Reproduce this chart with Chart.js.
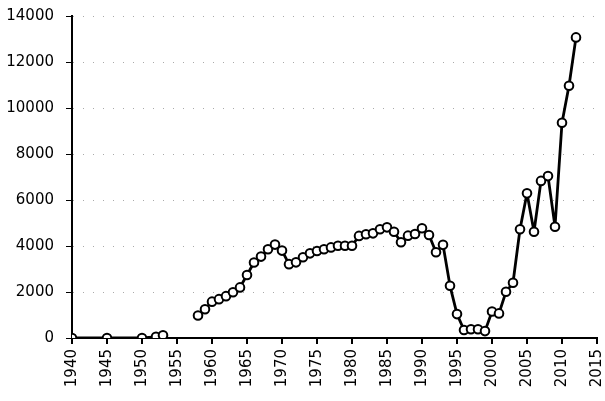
<!DOCTYPE html>
<html>
<head>
<meta charset="utf-8">
<script src="https://cdn.jsdelivr.net/npm/chart.js@4/dist/chart.umd.min.js"></script>
<style>
  html, body { margin: 0; padding: 0; background: #fff; }
  canvas { display: block; }
</style>
</head>
<body>
<canvas id="chart" width="605" height="401"></canvas>
<script>
// years along the x axis (null value = break in the line)
const years = [1940, 1945, 1950, 1952, 1953, 1954, 1955, 1956, 1957,
  1958, 1959, 1960, 1961, 1962, 1963, 1964, 1965, 1966, 1967, 1968, 1969,
  1970, 1971, 1972, 1973, 1974, 1975, 1976, 1977, 1978, 1979, 1980, 1981,
  1982, 1983, 1984, 1985, 1986, 1987, 1988, 1989, 1990, 1991, 1992, 1993,
  1994, 1995, 1996, 1997, 1998, 1999, 2000, 2001, 2002, 2003, 2004, 2005,
  2006, 2007, 2008, 2009, 2010, 2011, 2012];
const values = [0, 0, 0, 50, 120, null, null, null, null,
  980, 1250, 1580, 1690, 1820, 1990, 2200, 2740, 3280, 3540, 3860, 4060,
  3800, 3210, 3290, 3510, 3680, 3780, 3860, 3940, 4010, 4010, 4010, 4440,
  4510, 4550, 4730, 4810, 4620, 4160, 4450, 4520, 4770, 4480, 3730, 4050,
  2270, 1040, 350, 380, 380, 300, 1150, 1070, 2010, 2400, 4730, 6290,
  4620, 6830, 7040, 4840, 9360, 10970, 13070];
const yTicks = { min: 0, max: 14000, step: 2000 };
const xTicks = { min: 1940, max: 2015, step: 5 };

const points = years.map((y, i) => ({ x: y, y: values[i] }));

const font = { family: 'DejaVu Sans', size: 15 };

new Chart(document.getElementById('chart').getContext('2d'), {
  type: 'line',
  data: {
    datasets: [{
      data: points,
      borderColor: '#000',
      borderWidth: 2.8,
      borderJoinStyle: 'round',
      pointRadius: 4.3,
      pointBorderWidth: 2,
      pointBackgroundColor: '#fff',
      pointBorderColor: '#000',
      spanGaps: false,
      tension: 0
    }]
  },
  options: {
    responsive: false,
    animation: false,
    layout: { padding: { top: 16, right: 8, left: 0, bottom: 0 } },
    plugins: { legend: { display: false }, tooltip: { enabled: false } },
    scales: {
      x: {
        type: 'linear',
        min: xTicks.min,
        max: xTicks.max,
        afterFit: s => { s.height = 63; s.paddingLeft = 0; s.paddingRight = 0; },
        border: { color: '#000', width: 2 },
        grid: { drawOnChartArea: false, color: '#000', tickLength: 6, lineWidth: 2 },
        ticks: {
          stepSize: xTicks.step,
          color: '#000',
          font: font,
          minRotation: 90,
          maxRotation: 90,
          padding: 5,
          callback: v => String(v)
        }
      },
      y: {
        min: yTicks.min,
        max: yTicks.max,
        afterFit: s => { s.width = 72; s.paddingTop = 0; s.paddingBottom = 0; },
        border: { color: '#000', width: 2, dash: [1, 9] },
        grid: {
          color: '#aaa',
          tickColor: '#000',
          tickBorderDash: [4, 0],
          tickLength: 6,
          lineWidth: 1
        },
        ticks: {
          stepSize: yTicks.step,
          color: '#000',
          font: font,
          padding: 12,
          callback: v => String(v)
        }
      }
    }
  }
});
</script>
</body>
</html>
